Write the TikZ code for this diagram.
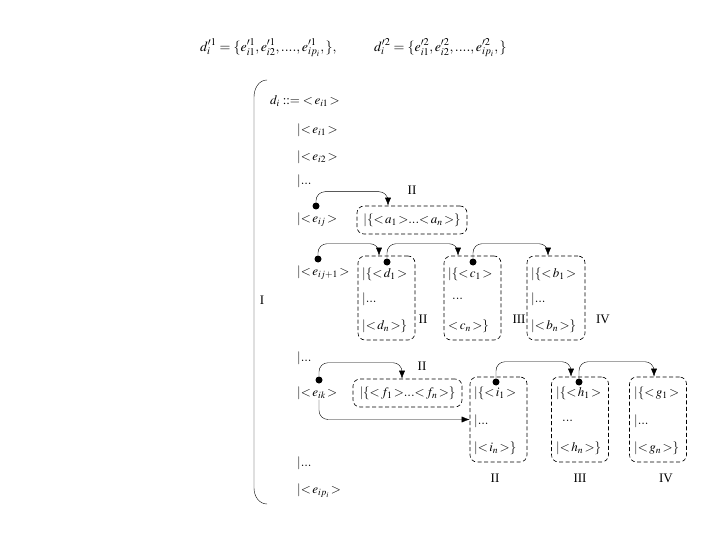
\documentclass[tikz,border=0pt]{standalone}
\usepackage{mathptmx}
\usepackage{fontspec}
\setmainfont{Liberation Serif}
\usetikzlibrary{arrows.meta}

\begin{document}
\begin{tikzpicture}[x=1pt,y=-1pt,font=\fontsize{13}{15}\selectfont,
  box/.style={draw, dash pattern=on 4pt off 2.5pt, line width=0.6pt, rounded corners=7pt, inner sep=0pt},
  dot/.style={circle, fill, inner sep=0pt, minimum size=7pt},
  link/.style={-{Latex[length=8pt,width=6pt]}, rounded corners=9pt},
  row/.style={anchor=west, inner sep=0pt}]
  \useasboundingbox (0,0) rectangle (720,540);

  % the two derived sets
  \node[row, font=\fontsize{14}{16}\selectfont] (set1) at (200,48)
    {$d_i^{\prime1}=\{e_{i1}^{\prime1},e_{i2}^{\prime1},....,e_{ip_i}^{\prime1},\},$};
  \node[row, font=\fontsize{14}{16}\selectfont] (set2) at (374,48)
    {$d_i^{\prime2}=\{e_{i1}^{\prime2},e_{i2}^{\prime2},....,e_{ip_i}^{\prime2},\}$};

  % left bracket
  \draw (267,80) to[out=180,in=90] (254,97) -- (254,488) to[out=-90,in=180] (267,504);
  \node (lI) at (262,300) {I};

  % the grammar of d_i
  \node[row] (di) at (270,101) {$d_i::={<}\,e_{i1}\,{>}$};
  \foreach \name/\txt/\y in {
    ei1/{$|{<}\,e_{i1}\,{>}$}/130,
    ei2/{$|{<}\,e_{i2}\,{>}$}/157,
    dotsA/{$|...$}/181,
    eij/{$|{<}\,e_{ij}\,{>}$}/220,
    eijj/{$|{<}\,e_{ij+1}\,{>}$}/273,
    dotsB/{$|...$}/358,
    eik/{$|{<}\,e_{ik}\,{>}$}/393,
    dotsC/{$|...$}/463,
    eip/{$|{<}\,e_{ip_i}\,{>}$}/491
  } {
    \node[row] (\name) at (297,\y) {\txt};
  }

  % dashed groups
  \node[box, minimum width=110, minimum height=28] (boxa) at (412,220) {$|\{{<}\,a_1\,{>}...{<}\,a_n\,{>}\}$};
  \node[box, minimum width=57, minimum height=84] (boxd) at (386.5,298) {};
  \node[box, minimum width=57, minimum height=84] (boxc) at (472.5,298) {};
  \node[box, minimum width=58, minimum height=84] (boxb) at (556,298) {};
  \node[box, minimum width=109, minimum height=28] (boxf) at (407.5,393) {$|\{{<}\,f_1\,{>}...{<}\,f_n\,{>}\}$};
  \node[box, minimum width=57, minimum height=85] (boxi) at (498.5,419.5) {};
  \node[box, minimum width=57, minimum height=85] (boxh) at (580,419.5) {};
  \node[box, minimum width=57, minimum height=85] (boxg) at (658,419.5) {};

  % contents of the groups
  \foreach \name/\x/\y/\txt in {
    d1/362/274/{$|\{{<}\,d_1\,{>}$}, d2/362/299/{$|...$}, d3/362/326/{$|{<}\,d_n\,{>}\}$},
    c1/448/274/{$|\{{<}\,c_1\,{>}$}, c2/452/299/{$...$}, c3/448/326/{${<}\,c_n\,{>}\}$},
    b1/531/274/{$|\{{<}\,b_1\,{>}$}, b2/531/299/{$|...$}, b3/531/326/{$|{<}\,b_n\,{>}\}$},
    i1/474/393/{$|\{{<}\,i_1\,{>}$}, i2/474/421/{$|...$}, i3/474/448/{$|{<}\,i_n\,{>}\}$},
    h1/556/393/{$|\{{<}\,h_1\,{>}$}, h2/562/421/{$...$}, h3/556/448/{$|{<}\,h_n\,{>}\}$},
    g1/634/393/{$|\{{<}\,g_1\,{>}$}, g2/634/421/{$|...$}, g3/634/448/{$|{<}\,g_n\,{>}\}$}
  } {
    \node[row] (\name) at (\x,\y) {\txt};
  }

  % labels of the groups
  \node (la) at (412,190) {II};
  \node (ld) at (423,319) {II};
  \node (lc) at (519,319) {III};
  \node (lb) at (603,319) {IV};
  \node (lf) at (422,366) {II};
  \node (li) at (495,478) {II};
  \node (lh) at (580,478) {III};
  \node (lg) at (666,478) {IV};

  % dots
  \node[dot] (pij) at (316,206) {};
  \node[dot] (pijj) at (318,259) {};
  \node[dot] (pd) at (387,262) {};
  \node[dot] (pc) at (473,262) {};
  \node[dot] (pik) at (319,380) {};
  \node[dot] (pi) at (496,382) {};
  \node[dot] (ph) at (579,382) {};

  % links
  \draw[link] (pij) |- ([xshift=-24pt,yshift=14pt]boxa.north) -- ([xshift=-24pt]boxa.north);
  \draw[link] (pijj) |- ([xshift=-7.5pt,yshift=12pt]boxd.north) -- ([xshift=-7.5pt]boxd.north);
  \draw[link] (pd) |- ([xshift=-14.5pt,yshift=12pt]boxc.north) -- ([xshift=-14.5pt]boxc.north);
  \draw[link] (pc) |- ([xshift=-8pt,yshift=12pt]boxb.north) -- ([xshift=-8pt]boxb.north);
  \draw[link] (pik) |- ([xshift=-5.5pt,yshift=16pt]boxf.north) -- ([xshift=-5.5pt]boxf.north);
  \draw[link] (pi) |- ([xshift=-9pt,yshift=15pt]boxh.north) -- ([xshift=-9pt]boxh.north);
  \draw[link] (ph) |- ([xshift=-4pt,yshift=15pt]boxg.north) -- ([xshift=-4pt]boxg.north);
  \draw[link] (pik |- eik.south) |- (boxi.west);
\end{tikzpicture}
\end{document}
